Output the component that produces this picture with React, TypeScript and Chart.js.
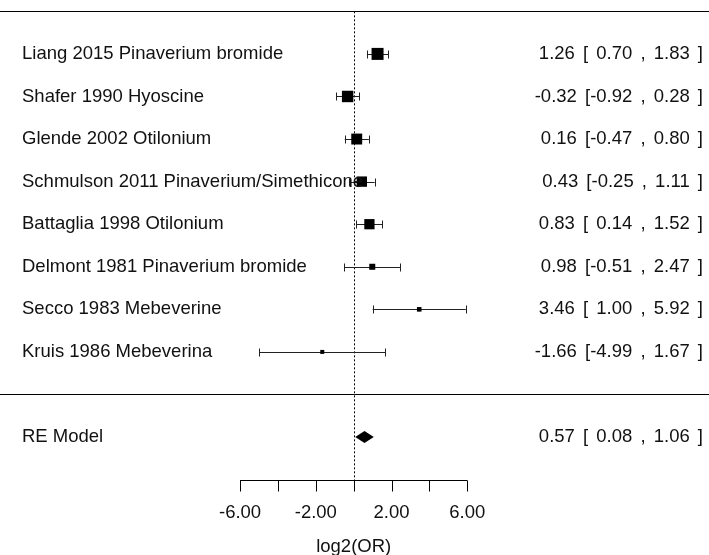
import React, { useEffect, useRef } from "react";
import { Chart, registerables } from "chart.js";

Chart.register(...registerables);

const studies = [
  "Liang 2015 Pinaverium bromide",
  "Shafer 1990 Hyoscine",
  "Glende 2002 Otilonium",
  "Schmulson 2011 Pinaverium/Simethicone",
  "Battaglia 1998 Otilonium",
  "Delmont 1981 Pinaverium bromide",
  "Secco 1983 Mebeverine",
  "Kruis 1986 Mebeverina",
];
const estimates = [1.26, -0.32, 0.16, 0.43, 0.83, 0.98, 3.46, -1.66];
const lowerCI = [0.7, -0.92, -0.47, -0.25, 0.14, -0.51, 1.0, -4.99];
const upperCI = [1.83, 0.28, 0.8, 1.11, 1.52, 2.47, 5.92, 1.67];

const summaryLabel = "RE Model";
const summaryEstimate = 0.57;
const summaryLower = 0.08;
const summaryUpper = 1.06;

const axisTicks = [-6, -4, -2, 0, 2, 4, 6];
const axisTickLabels = ["-6.00", "", "-2.00", "", "2.00", "", "6.00"];
const axisTitle = "log2(OR)";

const FONT = "18.5px 'Liberation Sans', Arial, Helvetica, sans-serif";

function fmt(v: number, width: number) {
  const s = v.toFixed(2);
  return s.length < width ? " ".repeat(width - s.length) + s : s;
}

function ciText(est: number, lo: number, hi: number) {
  const loW = Math.max(...lowerCI.map((v) => v.toFixed(2).length), lo.toFixed(2).length);
  const hiW = Math.max(...upperCI.map((v) => v.toFixed(2).length), hi.toFixed(2).length);
  return `${est.toFixed(2)} [${fmt(lo, loW)} , ${fmt(hi, hiW)} ]`;
}

export default function App() {
  const ref = useRef<HTMLCanvasElement | null>(null);

  useEffect(() => {
    if (!ref.current) return;
    const k = studies.length;
    const rows = studies.map((_, i) => k - i);
    const ses = lowerCI.map((lo, i) => (upperCI[i] - lo) / 3.92);
    const ws = ses.map((s) => 1 / s);
    const wMin = Math.min(...ws);
    const wMax = Math.max(...ws);
    const sides = ws.map((w) => (0.5 + (w - wMin) / (wMax - wMin)) * 8);

    const forestPlugin = {
      id: "forest",
      beforeDatasetsDraw(chart: any) {
        const ctx = chart.ctx;
        const xs = chart.scales.x;
        const ys = chart.scales.y;
        const W = chart.width;
        const px = (v: number) => xs.getPixelForValue(v);
        const py = (v: number) => ys.getPixelForValue(v);
        ctx.save();
        ctx.strokeStyle = "#000";
        ctx.lineWidth = 1;
        [k + 1, 0].forEach((r) => {
          const y = Math.round(py(r)) + 0.5;
          ctx.beginPath();
          ctx.moveTo(0, y);
          ctx.lineTo(W, y);
          ctx.stroke();
        });
        const x0 = Math.round(px(0)) + 0.5;
        ctx.setLineDash([2, 2]);
        ctx.beginPath();
        ctx.moveTo(x0, py(k + 1));
        ctx.lineTo(x0, py(-2));
        ctx.stroke();
        ctx.setLineDash([]);
        ctx.strokeStyle = "#222";
        rows.forEach((r, i) => {
          const y = Math.round(py(r)) + 0.5;
          const a = px(lowerCI[i]);
          const b = px(upperCI[i]);
          ctx.beginPath();
          ctx.moveTo(a, y);
          ctx.lineTo(b, y);
          ctx.moveTo(Math.round(a) + 0.5, y - 4);
          ctx.lineTo(Math.round(a) + 0.5, y + 4);
          ctx.moveTo(Math.round(b) + 0.5, y - 4);
          ctx.lineTo(Math.round(b) + 0.5, y + 4);
          ctx.stroke();
        });
        const yd = py(-1);
        ctx.fillStyle = "#000";
        ctx.beginPath();
        ctx.moveTo(px(summaryLower), yd);
        ctx.lineTo(px(summaryEstimate), yd - 6);
        ctx.lineTo(px(summaryUpper), yd);
        ctx.lineTo(px(summaryEstimate), yd + 6);
        ctx.closePath();
        ctx.fill();
        ctx.strokeStyle = "#000";
        const ya = Math.round(py(-2)) + 0.5;
        ctx.beginPath();
        ctx.moveTo(px(axisTicks[0]), ya);
        ctx.lineTo(px(axisTicks[axisTicks.length - 1]), ya);
        axisTicks.forEach((t) => {
          const xt = Math.round(px(t)) + 0.5;
          ctx.moveTo(xt, ya);
          ctx.lineTo(xt, ya + 11);
        });
        ctx.stroke();
        ctx.restore();
      },
      afterDraw(chart: any) {
        const ctx = chart.ctx;
        const xs = chart.scales.x;
        const ys = chart.scales.y;
        const W = chart.width;
        const px = (v: number) => xs.getPixelForValue(v);
        const py = (v: number) => ys.getPixelForValue(v);
        ctx.save();
        ctx.font = FONT;
        ctx.fillStyle = "#111";
        ctx.textBaseline = "middle";
        rows.forEach((r, i) => {
          ctx.textAlign = "left";
          ctx.wordSpacing = "0px";
          ctx.fillText(studies[i], 22, py(r));
          ctx.textAlign = "right";
          ctx.wordSpacing = "3px";
          ctx.fillText(ciText(estimates[i], lowerCI[i], upperCI[i]), W - 6, py(r));
        });
        ctx.textAlign = "left";
        ctx.wordSpacing = "0px";
        ctx.fillText(summaryLabel, 22, py(-1));
        ctx.textAlign = "right";
        ctx.wordSpacing = "3px";
        ctx.fillText(ciText(summaryEstimate, summaryLower, summaryUpper), W - 6, py(-1));
        ctx.wordSpacing = "0px";
        ctx.textAlign = "center";
        const ya = py(-2);
        axisTicks.forEach((t, i) => {
          if (axisTickLabels[i]) ctx.fillText(axisTickLabels[i], px(t), ya + 33);
        });
        ctx.fillText(axisTitle, px(0), ya + 67);
        ctx.restore();
      },
    };

    const chart = new Chart(ref.current, {
      type: "scatter",
      data: {
        datasets: [
          {
            data: estimates.map((e, i) => ({ x: e, y: rows[i] })),
            pointStyle: "rect",
            pointRadius: sides.map((s) => s / Math.SQRT2),
            pointBackgroundColor: "#000",
            pointBorderWidth: 0,
            borderWidth: 0,
          } as any,
        ],
      },
      options: {
        responsive: false,
        animation: false,
        layout: { padding: 0, autoPadding: false },
        plugins: { legend: { display: false }, tooltip: { enabled: false } },
        events: [],
        scales: {
          x: { type: "linear", min: -18.675, max: 18.76, display: false },
          y: { type: "linear", min: -3.77, max: 9.266, display: false },
        },
      },
      plugins: [forestPlugin],
    });
    return () => chart.destroy();
  }, []);

  return (
    <div style={{ position: "absolute", left: 0, top: 0, width: 709, height: 555, background: "#fff" }}>
      <canvas ref={ref} width={709} height={555} />
    </div>
  );
}
